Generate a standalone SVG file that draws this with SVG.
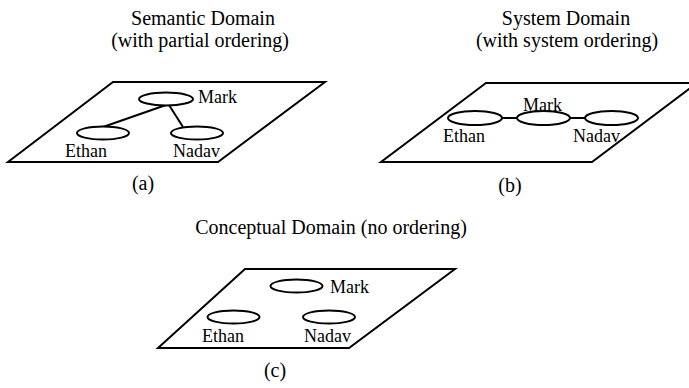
<svg xmlns="http://www.w3.org/2000/svg" width="689" height="388" viewBox="0 0 689 388">
<style>
text{font-family:"Liberation Serif","Times New Roman",serif;fill:#000}
.t{font-size:20px;text-anchor:middle}
.l{font-size:18px}
.plane{fill:none;stroke:#000;stroke-width:2}
.node{fill:#fff;stroke:#000;stroke-width:2}
.edge{stroke:#000;stroke-width:2;fill:none}
</style>
<rect width="689" height="388" fill="#fff"/>
<g id="panel-a">
<text class="t" x="203" y="25">Semantic Domain</text>
<text class="t" x="200" y="47">(with partial ordering)</text>
<polygon class="plane" points="113,82 325,82 218,162 8,162"/>
<g id="connectors-a">
<line class="edge" x1="166" y1="105" x2="103" y2="127"/>
<line class="edge" x1="169" y1="105" x2="183" y2="127"/>
</g>
<g id="a-mark"><ellipse class="node" cx="166" cy="99" rx="27" ry="6.5"/><text class="l" x="198" y="103">Mark</text></g>
<g id="a-ethan"><ellipse class="node" cx="103" cy="133" rx="26" ry="6.5"/><text class="l" x="65" y="157">Ethan</text></g>
<g id="a-nadav"><ellipse class="node" cx="197" cy="133" rx="26" ry="6.5"/><text class="l" x="173" y="157">Nadav</text></g>
<text class="t" x="143" y="190">(a)</text>
</g>
<g id="panel-b">
<text class="t" x="566" y="25">System Domain</text>
<text class="t" x="567" y="47">(with system ordering)</text>
<polygon class="plane" points="486,83 697,83 592,162 381,162"/>
<g id="connectors-b">
<line class="edge" x1="502" y1="118" x2="517" y2="118"/>
<line class="edge" x1="570" y1="118" x2="585" y2="118"/>
</g>
<g id="b-ethan"><ellipse class="node" cx="475" cy="118" rx="27" ry="7"/><text class="l" x="443" y="142">Ethan</text></g>
<g id="b-mark"><ellipse class="node" cx="543.5" cy="118" rx="26.5" ry="7"/><text class="l" x="523" y="111">Mark</text></g>
<g id="b-nadav"><ellipse class="node" cx="611.5" cy="118" rx="26.5" ry="7"/><text class="l" x="573" y="142">Nadav</text></g>
<text class="t" x="510" y="192">(b)</text>
</g>
<g id="panel-c">
<text class="t" x="331" y="234">Conceptual Domain (no ordering)</text>
<polygon class="plane" points="245,269 455,269 349,348 158,348"/>
<g id="c-mark"><ellipse class="node" cx="296.5" cy="286" rx="26" ry="6.5"/><text class="l" x="330" y="293">Mark</text></g>
<g id="c-ethan"><ellipse class="node" cx="233.5" cy="317" rx="26" ry="6.5"/><text class="l" x="202" y="342">Ethan</text></g>
<g id="c-nadav"><ellipse class="node" cx="329" cy="317" rx="26" ry="6.5"/><text class="l" x="304" y="342">Nadav</text></g>
<text class="t" x="275" y="377">(c)</text>
</g>
</svg>
